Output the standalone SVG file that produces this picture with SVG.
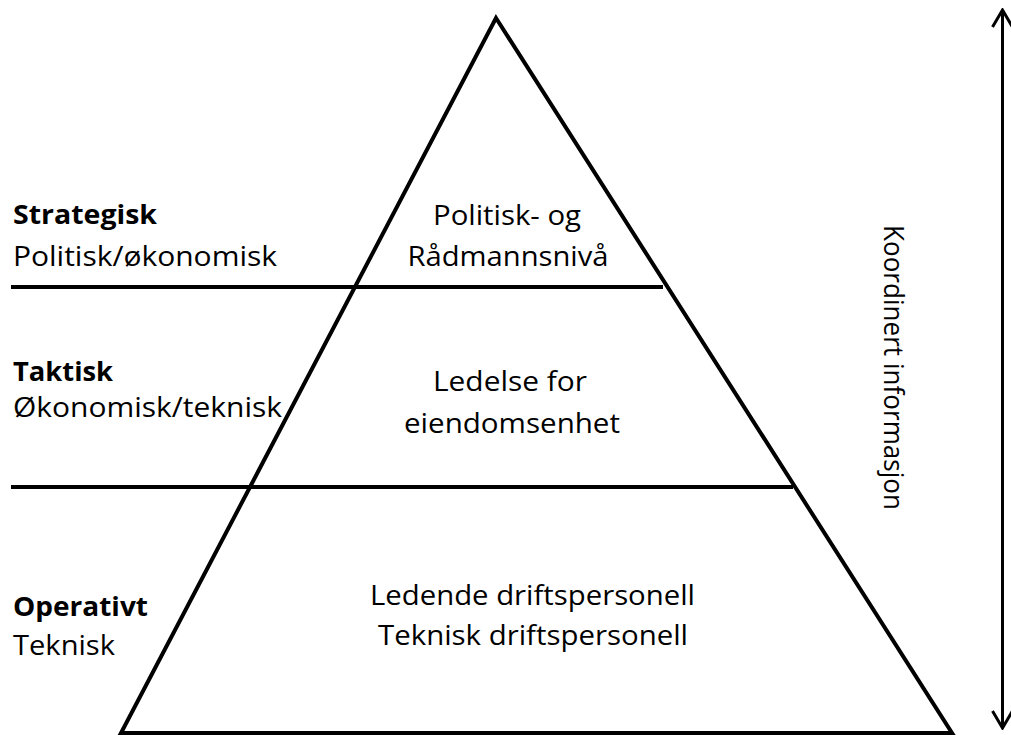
<svg xmlns="http://www.w3.org/2000/svg" width="1011" height="735" viewBox="0 0 1011 735">
  <style>
    .lbl { font-family: "Open Sans", "Liberation Sans", sans-serif; font-size: 27px; fill: #000; }
    .b { font-weight: bold; }
    .mid { text-anchor: middle; }
    .ln { stroke: #000; stroke-width: 4; fill: none; }
  </style>
  <defs>
    <marker id="head" viewBox="0 0 20 24" refX="18" refY="12" markerWidth="20" markerHeight="24" markerUnits="userSpaceOnUse" orient="auto-start-reverse">
      <path d="M1,2 L18,12 L1,22" fill="none" stroke="#000" stroke-width="3"/>
    </marker>
  </defs>
  <rect width="1011" height="735" fill="#fff"/>

  <!-- pyramid outline, level dividers and the vertical information axis -->
  <g id="connectors">
    <polygon class="ln" points="496,18 952,733 121,733" stroke-linejoin="miter"/>
    <line class="ln" x1="11" y1="287" x2="663" y2="287"/>
    <line class="ln" x1="11" y1="487" x2="793" y2="487"/>
    <line id="info-axis" x1="1002.5" y1="10" x2="1002.5" y2="728" stroke="#000" stroke-width="3" marker-start="url(#head)" marker-end="url(#head)"/>
  </g>

  <g id="level-strategic">
    <text class="lbl b" x="13" y="224" textLength="144" lengthAdjust="spacingAndGlyphs">Strategisk</text>
    <text class="lbl" x="13" y="266" textLength="264" lengthAdjust="spacingAndGlyphs">Politisk/økonomisk</text>
    <text class="lbl mid" x="507" y="225" textLength="148" lengthAdjust="spacingAndGlyphs">Politisk- og</text>
    <text class="lbl mid" x="508" y="266" textLength="201" lengthAdjust="spacingAndGlyphs">Rådmannsnivå</text>
  </g>

  <g id="level-tactical">
    <text class="lbl b" x="13" y="381" textLength="100" lengthAdjust="spacingAndGlyphs">Taktisk</text>
    <text class="lbl" x="13" y="417" textLength="269" lengthAdjust="spacingAndGlyphs">Økonomisk/teknisk</text>
    <text class="lbl mid" x="510" y="391" textLength="154" lengthAdjust="spacingAndGlyphs">Ledelse for</text>
    <text class="lbl mid" x="512" y="433" textLength="216" lengthAdjust="spacingAndGlyphs">eiendomsenhet</text>
  </g>

  <g id="level-operative">
    <text class="lbl b" x="13" y="616" textLength="135" lengthAdjust="spacingAndGlyphs">Operativt</text>
    <text class="lbl" x="13" y="655" textLength="102" lengthAdjust="spacingAndGlyphs">Teknisk</text>
    <text class="lbl mid" x="532.5" y="605" textLength="325" lengthAdjust="spacingAndGlyphs">Ledende driftspersonell</text>
    <text class="lbl mid" x="533" y="645" textLength="310" lengthAdjust="spacingAndGlyphs">Teknisk driftspersonell</text>
  </g>

  <g id="axis-label">
    <text class="lbl mid" transform="translate(884,367.5) rotate(90)" textLength="285" lengthAdjust="spacingAndGlyphs">Koordinert informasjon</text>
  </g>
</svg>
